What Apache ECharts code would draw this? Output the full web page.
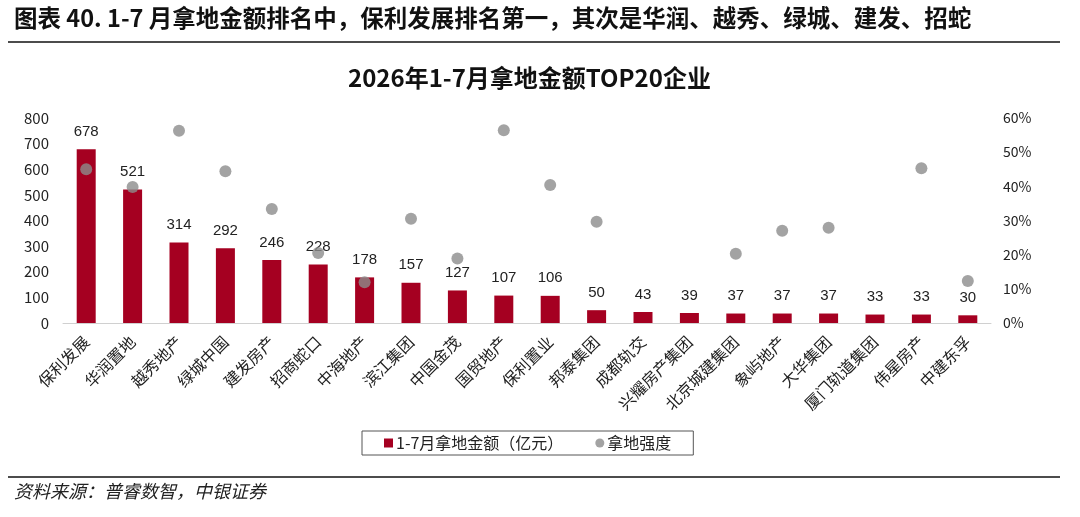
<!DOCTYPE html>
<html>
<head>
<meta charset="utf-8">
<script src="https://cdn.jsdelivr.net/npm/echarts@6/dist/echarts.min.js"></script>
<style>
  html, body { margin: 0; padding: 0; background: #fff; }
  #chart { width: 1080px; height: 517px; }
</style>
</head>
<body>
<div id="chart"></div>
<script>
// companies, ranked by land spend Jan-Jul
const companies = ['保利发展', '华润置地', '越秀地产', '绿城中国', '建发房产', '招商蛇口', '中海地产', '滨江集团', '中国金茂', '国贸地产',
  '保利置业', '邦泰集团', '成都轨交', '兴耀房产集团', '北京城建集团', '象屿地产', '大华集团', '厦门轨道集团', '伟星房产', '中建东孚'];
// 1-7月拿地金额 (亿元)
const landAmount = [678, 521, 314, 292, 246, 228, 178, 157, 127, 107, 106, 50, 43, 39, 37, 37, 37, 33, 33, 30];
// 拿地强度 (%), null where no point is shown
const landIntensity = [45.0, 39.8, 56.3, 44.4, 33.4, 20.5, 11.9, 30.5, 18.9, 56.4, 40.4, 29.6, null, null, 20.3, 27.0, 27.9, null, 45.3, 12.3];

const cjk = '"Noto Sans CJK SC", "Noto Sans", sans-serif';
const chart = echarts.init(document.getElementById('chart'));

const option = {
  animation: false,
  textStyle: { fontFamily: cjk },
  title: {
    text: '2026年1-7月拿地金额TOP20企业',
    left: 343,
    top: 61,
    textStyle: { fontSize: 24, fontWeight: 'bold', color: '#111', fontFamily: cjk }
  },
  graphic: [
    {
      type: 'text', left: 14, top: 6,
      style: { text: '图表 40. 1-7 月拿地金额排名中，保利发展排名第一，其次是华润、越秀、绿城、建发、招蛇', fontSize: 23.5, fontWeight: 'bold', fill: '#111', fontFamily: cjk }
    },
    { type: 'line', shape: { x1: 8, y1: 42, x2: 1060, y2: 42 }, style: { stroke: '#111', lineWidth: 1.5 } },
    { type: 'line', shape: { x1: 8, y1: 477, x2: 1060, y2: 477 }, style: { stroke: '#111', lineWidth: 1.5 } },
    {
      type: 'text', left: 14, top: 482,
      style: { text: '资料来源：普睿数智，中银证券', fontSize: 18, fontStyle: 'italic', fill: '#222', fontFamily: cjk }
    }
  ],
  legend: {
    top: 431,
    left: 362,
    borderColor: '#555',
    borderWidth: 1,
    padding: [4, 22, 4, 22],
    itemGap: 32,
    itemWidth: 9,
    itemHeight: 9,
    textStyle: { fontSize: 16, color: '#222', padding: [0, 0, 0, -2] },
    data: [
      { name: '1-7月拿地金额（亿元）', icon: 'rect' },
      { name: '拿地强度', icon: 'circle' }
    ]
  },
  grid: { left: 63, right: 89, top: 118, bottom: 194 },
  xAxis: {
    type: 'category',
    data: companies,
    axisLine: { lineStyle: { color: '#d0d0d0' } },
    axisTick: { show: false },
    axisLabel: { rotate: 45, fontSize: 16, color: '#222', interval: 0, margin: 16 }
  },
  yAxis: [
    {
      type: 'value', min: 0, max: 800, interval: 100,
      splitLine: { show: false },
      axisLine: { show: false },
      axisLabel: { fontSize: 15, color: '#222', margin: 14 }
    },
    {
      type: 'value', min: 0, max: 60, interval: 10,
      splitLine: { show: false },
      axisLine: { show: false },
      axisLabel: { fontSize: 14, color: '#222', formatter: '{value}%', margin: 12 }
    }
  ],
  series: [
    {
      name: '1-7月拿地金额（亿元）',
      type: 'bar',
      data: landAmount,
      barWidth: 19,
      itemStyle: { color: '#A50021' },
      label: { show: true, position: 'top', distance: 10, fontSize: 15, color: '#222', fontFamily: 'Arial, "Liberation Sans", sans-serif' }
    },
    {
      name: '拿地强度',
      type: 'scatter',
      yAxisIndex: 1,
      data: landIntensity,
      symbolSize: 12,
      itemStyle: { color: '#8c8c8c' }
    }
  ]
};

chart.setOption(option);
</script>
</body>
</html>
